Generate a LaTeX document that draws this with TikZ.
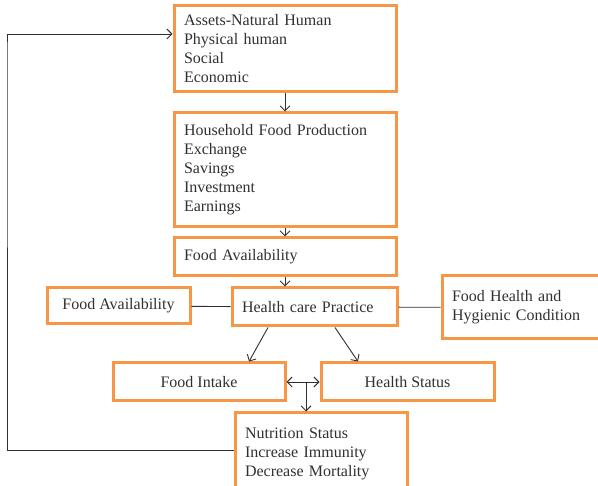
\documentclass[tikz,border=0pt]{standalone}
\usepackage{fontspec}
\setmainfont{Liberation Serif}
\usepackage{tikz}
\usetikzlibrary{arrows.meta}
\definecolor{frame}{HTML}{F79646}
\definecolor{ink}{HTML}{303030}

\begin{document}
\begin{tikzpicture}[x=1pt, y=-1pt,
  every node/.style={font=\fontsize{16}{19}\selectfont, text=ink},
  box/.style={draw=frame, line width=3pt, align=left,
    inner xsep=10pt, inner ysep=0pt},
  cbox/.style={draw=frame, line width=3pt, align=center, inner sep=0pt},
  conn/.style={draw=ink, line width=0.9pt},
  arrow/.style={conn, -{Straight Barb[length=5pt, width=10pt]}},
  twoway/.style={conn, {Straight Barb[length=5pt, width=10pt]}-{Straight Barb[length=5pt, width=10pt]}}
]
\useasboundingbox (0,0) rectangle (598,486);
\clip (0,0) rectangle (598,486);

% Main column
\node[box, text width=202pt, minimum height=86pt] (assets) at (285,49)
  {Assets-Natural Human\\Physical human\\Social\\Economic};
\node[box, text width=202pt, minimum height=114pt] (house) at (285,170)
  {Household Food Production\\Exchange\\Savings\\Investment\\Earnings};
\node[box, text width=202pt, minimum height=38pt] (avail) at (285,257)
  {Food Availability};

% Middle row
\node[cbox, minimum width=143pt, minimum height=36pt] (left) at (118.5,306)
  {Food Availability};
\node[box, text width=145pt, minimum height=38pt] (care) at (314.5,307)
  {Health care Practice};
\node[box, text width=148pt, minimum height=63pt] (hyg) at (526,307.5)
  {Food Health and\\Hygienic Condition};

% Outcomes
\node[cbox, minimum width=172pt, minimum height=38pt] (intake) at (199,382)
  {Food Intake};
\node[cbox, minimum width=173pt, minimum height=38pt] (health) at (407.5,382)
  {Health Status};
\node[box, text width=152pt, minimum height=82pt] (nutr) at (321,454)
  {Nutrition Status\\Increase Immunity\\Decrease Mortality};

\coordinate (mid) at (306,382);
\coordinate (back) at (7,0);

% Arrows
\draw[arrow] (assets) -- (house);
\draw[arrow] (house) -- (avail);
\draw[arrow] (avail.south) -- (avail.south |- care.north);
\draw[conn] (left) -- (care);
\draw[conn] (care) -- (hyg);
\draw[arrow] ([xshift=-46.5pt]care.south) -- ([xshift=50pt]intake.north);
\draw[arrow] ([xshift=20.5pt]care.south) -- ([xshift=-49.5pt]health.north);
\draw[twoway] (intake) -- (health);
\draw[arrow] (mid) -- (mid |- nutr.north);
\draw[arrow] ([yshift=4pt]nutr.west) -| (back |- assets.west)
  |- ([yshift=15pt]assets.west);

\end{tikzpicture}
\end{document}
